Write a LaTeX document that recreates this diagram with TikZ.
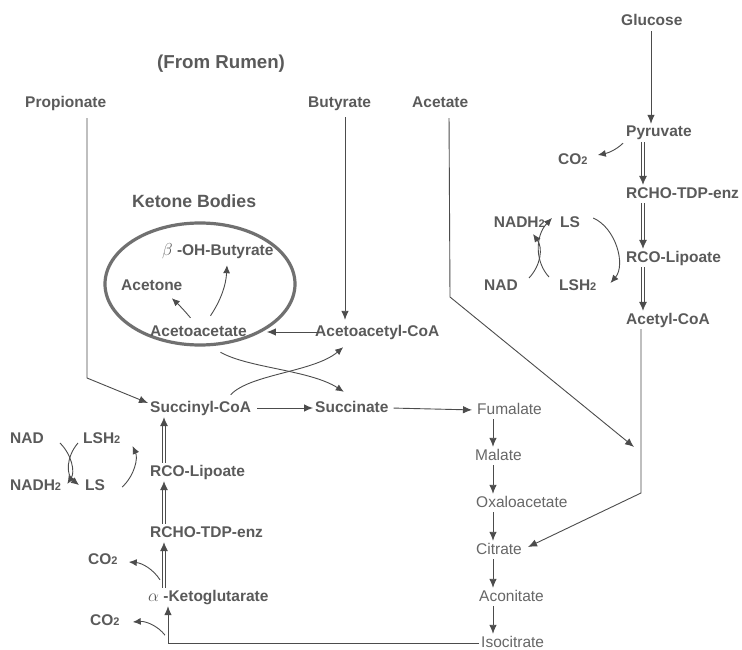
\documentclass[tikz,border=0pt]{standalone}
\usepackage{fontspec}
\setmainfont{Liberation Sans}
\usetikzlibrary{arrows.meta,shapes.geometric,calc}
\definecolor{tc}{HTML}{5A5A5A}
\definecolor{tl}{HTML}{676767}
\definecolor{lc}{HTML}{4C4C4C}
\definecolor{ec}{HTML}{707070}
\newcommand\fsz{\fontsize{15.5}{18}\selectfont}
\newcommand\subt[1]{{\fontsize{11}{11}\selectfont #1}}
\newcommand\grk[1]{{\fontsize{17}{18}\selectfont\(#1\)}}
\begin{document}
\begin{tikzpicture}[x=1pt,y=-1pt,
 lbl/.style={anchor=west,inner sep=2pt,text height=11pt,text depth=3pt,font=\fsz\bfseries,text=tc},
 lbr/.style={lbl,anchor=east},
 lbt/.style={lbl,font=\fsz,text=tl},
 arr/.style={draw=lc,line width=0.9pt,-{Latex[length=9pt,width=7.5pt]}},
 carr/.style={draw=lc,line width=0.9pt,-{Latex[length=8pt,width=7pt]}},
 dbl/.style={draw=lc,line width=0.8pt,double=white,double distance=2.4pt,-{Latex[length=9pt,width=8pt]}},
 ln/.style={draw=lc,line width=0.9pt}]
\useasboundingbox[fill=white] (0,0) rectangle (742,650);

% ---- nodes
\node[lbl] (gluc) at (619,22) {Glucose};
\node[lbl,text height=13pt,font=\fontsize{18.7}{22}\selectfont\bfseries] (rumen) at (155,64) {(From Rumen)};
\node[lbl] (prop) at (23,104) {Propionate};
\node[lbl] (buty) at (306,104) {Butyrate};
\node[lbl] (acet) at (410,104) {Acetate};
\node[lbl] (pyr) at (624,133) {Pyruvate};
\node[lbl] (co2a) at (556,161) {CO\subt{2}};
\node[lbl] (rchoR) at (624,194) {RCHO-TDP-enz};
\node[lbr] (nadh2R) at (547,223) {NADH\subt{2}};
\node[lbl] (lsR) at (558,223) {LS};
\node[lbr] (nadR) at (520,286) {NAD};
\node[lbl] (lsh2R) at (557,286) {LSH\subt{2}};
\node[lbl] (rcoR) at (624,258) {RCO-Lipoate};
\node[lbl] (acoaR) at (624,320) {Acetyl-CoA};
\node[lbl,text height=12pt,font=\fontsize{17.7}{21}\selectfont\bfseries] (keto) at (130,203) {Ketone Bodies};
\node[ellipse,draw=ec,line width=3.2pt,minimum width=190pt,minimum height=122pt,inner sep=0pt] (kb) at (200,284) {};
\node[lbl] (bohb) at (160,251) {\grk{\beta} -OH-Butyrate};
\node[lbl] (acetone) at (119,286) {Acetone};
\node[lbl] (acac) at (148,332) {Acetoacetate};
\node[lbl] (acacCoA) at (313,332) {Acetoacetyl-CoA};
\node[lbl] (succ) at (148,408) {Succinyl-CoA};
\node[lbl] (succinate) at (313,408) {Succinate};
\node[lbt] (fum) at (475,410) {Fumalate};
\node[lbt] (mal) at (473,456) {Malate};
\node[lbt] (oxa) at (474,503) {Oxaloacetate};
\node[lbt] (cit) at (474,550) {Citrate};
\node[lbt] (acon) at (477,597) {Aconitate};
\node[lbt] (isoc) at (479,643) {Isocitrate};
\node[lbl] (nadL) at (8,439) {NAD};
\node[lbl] (lsh2L) at (81,439) {LSH\subt{2}};
\node[lbl] (nadh2L) at (8,486) {NADH\subt{2}};
\node[lbl] (lsL) at (83,486) {LS};
\node[lbl] (rcoL) at (148,472) {RCO-Lipoate};
\node[lbl] (rchoL) at (148,533) {RCHO-TDP-enz};
\node[lbl] (akg) at (146,597) {\grk{\alpha} -Ketoglutarate};
\node[lbl] (co2b) at (86,560) {CO\subt{2}};
\node[lbl] (co2c) at (88,621) {CO\subt{2}};

% ---- helper coordinates
\coordinate (xR) at (643,0);
\coordinate (xL) at (164,0);
\coordinate (xI) at (168,0);
\coordinate (xT) at (493,0);
\coordinate (xG) at (651,0);
\coordinate (xB) at (345,0);
\coordinate (xA) at (449,0);
\coordinate (xP) at (87,0);
\coordinate (xC) at (641,0);
\coordinate (bendA) at (450,297);
\coordinate (joinA) at (634,447);
\coordinate (bendP) at (87,378);
\coordinate (bendC) at (641,493);

% ---- right column
\draw[arr] (gluc.south -| xG) -- (pyr.north -| xG);
\draw[dbl] (pyr.south -| xR) -- (rchoR.north -| xR);
\draw[dbl] (rchoR.south -| xR) -- (rcoR.north -| xR);
\draw[dbl] (rcoR.south -| xR) -- (acoaR.north -| xR);
\draw[arr] (acoaR.south -| xC) -- (bendC) -- ([xshift=4pt,yshift=3pt]cit.east);
\draw[carr] ($(pyr.south west)+(-1,1)$) .. controls (616,150) and (608,153) .. ($(co2a.east)+(8,-6)$);

% ---- right LS cycle
\draw[carr] ($(nadR.east)+(9,-8)$) .. controls (541,265) and (543,248) .. ($(nadh2R.east)+(-14,11)$);
\draw[carr] ($(lsh2R.west)+(-8,-9)$) .. controls (535,262) and (535,236) .. ($(lsR.west)+(-6,-5)$);
\draw[carr] ($(lsR.east)+(11,-5)$) .. controls (616,228) and (626,265) .. ($(lsh2R.east)+(12,-3)$);

% ---- inputs
\draw[arr,shorten <=5pt] (acet.south -| xA) -- (bendA) -- (joinA);
\draw[arr,shorten <=4pt,shorten >=3pt] (buty.south -| xB) -- (acacCoA.north -| xB);
\draw[arr,shorten <=5pt] (prop.south -| xP) -- (bendP) -- ([yshift=5pt]succ.west);

% ---- ketone bodies
\draw[carr] ($(acac.north)+(-8,-5)$) .. controls (184,310) and (178,304) .. ($(acetone.south)+(20,3)$);
\draw[carr] ($(acac.north)+(12,-7)$) .. controls (221,300) and (226,285) .. ($(bohb.south west)+(67,5)$);
\draw[arr,shorten <=-6pt,shorten >=18pt] (acacCoA.west) -- (acac.east);
\draw[carr] ($(acac.south)+(22,11)$) .. controls (248,368) and (310,370) .. ($(succinate.north)+(-8,-7)$);
\draw[carr] ($(succ.north)+(30,-4)$) .. controls (250,374) and (314,372) .. ($(acacCoA.south)+(-34,6)$);

% ---- TCA
\draw[arr,shorten <=4pt] (succ.east) -- (succinate.west);
\draw[arr,shorten <=3pt,shorten >=3pt] (succinate.east) -- (fum.west);
\draw[arr] (fum.south -| xT) -- (mal.north -| xT);
\draw[arr] (mal.south -| xT) -- (oxa.north -| xT);
\draw[arr] (oxa.south -| xT) -- (cit.north -| xT);
\draw[arr] (cit.south -| xT) -- (acon.north -| xT);
\draw[arr] (acon.south -| xT) -- (isoc.north -| xT);
\draw[arr] (isoc.west) -- (isoc.west -| xI) -- (akg.south -| xI);

% ---- left column
\draw[dbl] (akg.north -| xL) -- (rchoL.south -| xL);
\draw[dbl] (rchoL.north -| xL) -- (rcoL.south -| xL);
\draw[dbl] (rcoL.north -| xL) -- (succ.south -| xL);
\draw[carr] ($(akg.north west)+(14,-8)$) .. controls (153,569) and (142,563) .. ($(co2b.east)+(9,2)$);
\draw[carr] ($(akg.south west)+(19,29)$) .. controls (158,626) and (146,621) .. ($(co2c.east)+(11,1)$);

% ---- left LS cycle
\draw[carr] ($(nadL.east)+(14,4)$) .. controls (72,455) and (75,472) .. ($(nadh2L.east)+(4,-2)$);
\draw[carr] ($(lsh2L.west)+(-3,4)$) .. controls (66,457) and (66,475) .. ($(lsL.west)+(-4,-1)$);
\draw[carr] ($(lsL.east)+(15,1)$) .. controls (135,475) and (138,458) .. ($(lsh2L.east)+(10,7)$);
\end{tikzpicture}
\end{document}
